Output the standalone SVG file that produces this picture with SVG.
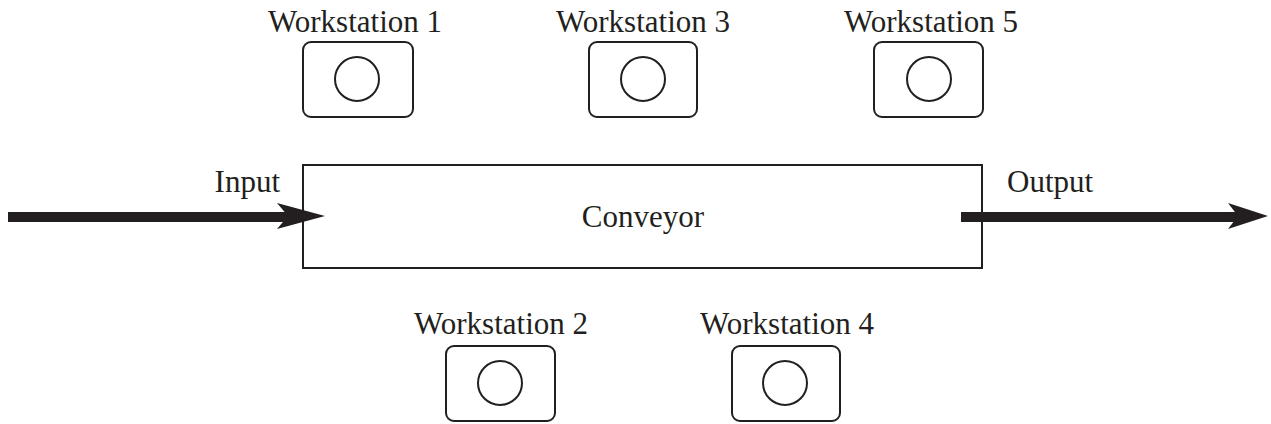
<svg xmlns="http://www.w3.org/2000/svg" width="1271" height="424" viewBox="0 0 1271 424">
<style>
.t{font-family:"Liberation Serif","Times New Roman",serif;font-size:31px;fill:#231f20}
.box{fill:#fff;stroke:#231f20;stroke-width:2}
.c{fill:none;stroke:#231f20;stroke-width:2}
.shaft{stroke:#231f20;stroke-width:10;fill:none}
.head{fill:#231f20}
</style>
<rect width="1271" height="424" fill="#fff"/>
<g id="conveyor">
<rect class="box" x="303" y="165" width="679" height="103"/>
<text class="t" x="643" y="227" text-anchor="middle">Conveyor</text>
</g>
<g id="ws1">
<text class="t" x="355" y="32" text-anchor="middle">Workstation 1</text>
<rect class="box" x="303" y="42" width="110" height="75" rx="8"/>
<circle class="c" cx="357" cy="79" r="22"/>
</g>
<g id="ws3">
<text class="t" x="643" y="32" text-anchor="middle">Workstation 3</text>
<rect class="box" x="589" y="42" width="108" height="75" rx="8"/>
<circle class="c" cx="643" cy="79" r="22"/>
</g>
<g id="ws5">
<text class="t" x="931" y="32" text-anchor="middle">Workstation 5</text>
<rect class="box" x="874" y="42" width="109" height="75" rx="8"/>
<circle class="c" cx="929" cy="79" r="22"/>
</g>
<g id="ws2">
<text class="t" x="501" y="334" text-anchor="middle">Workstation 2</text>
<rect class="box" x="446" y="346" width="109" height="75" rx="8"/>
<circle class="c" cx="500" cy="383" r="22"/>
</g>
<g id="ws4">
<text class="t" x="787" y="334" text-anchor="middle">Workstation 4</text>
<rect class="box" x="732" y="346" width="108" height="75" rx="8"/>
<circle class="c" cx="785" cy="383" r="22"/>
</g>
<g id="connectors">
<line class="shaft" x1="8" y1="217" x2="290" y2="217"/>
<polygon class="head" points="325,216 277,203 288,216 277,229"/>
<text class="t" x="280" y="192" text-anchor="end">Input</text>
<line class="shaft" x1="961" y1="217" x2="1240" y2="217"/>
<polygon class="head" points="1268,216 1228,203 1238,216 1228,229"/>
<text class="t" x="1007" y="192">Output</text>
</g>
</svg>
